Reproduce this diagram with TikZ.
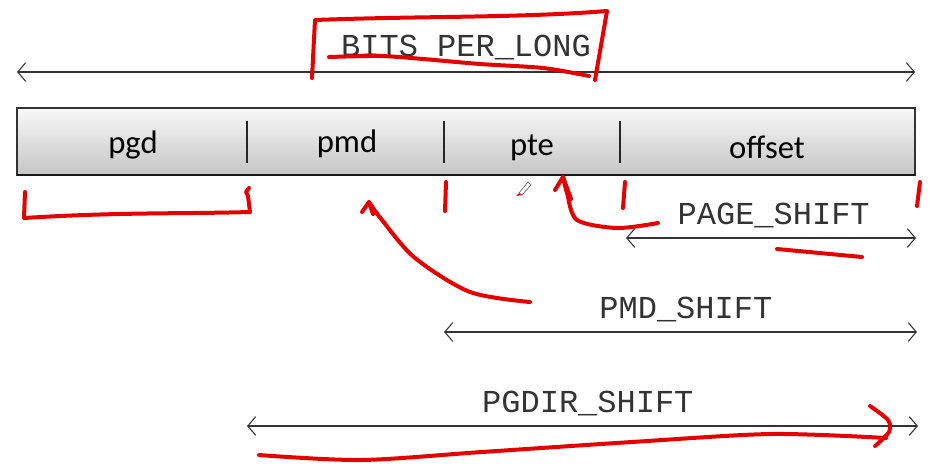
\documentclass[tikz,border=0pt]{standalone}
\usepackage{fontspec}
\newfontfamily\codefont{Liberation Mono}
\newfontfamily\fieldfont{Carlito}
\usetikzlibrary{positioning,arrows.meta,calc,shadows}

\tikzset{
  dim/.style={{Straight Barb[length=6pt,width=14pt]}-{Straight Barb[length=6pt,width=14pt]}, black!80, line width=0.8pt},
  dimlabel/.style={font=\codefont\fontsize{24}{24}\selectfont, text=black!80, anchor=base, yshift=10.5pt, inner sep=0pt},
  fieldlabel/.style={font=\fieldfont\fontsize{24.5}{24.5}\selectfont, inner sep=0pt},
  divider/.style={black!85, line width=0.9pt},
  ink/.style={red!90!black, line width=3pt, line cap=round, line join=round}
}

\begin{document}
\begin{tikzpicture}[x=0.75pt,y=-0.75pt]
\useasboundingbox (0,0) rectangle (944,475);

% Address bar
\shade[top color=gray!6, bottom color=gray!45, draw=black!80, line width=1.2pt,
       drop shadow={opacity=0.25, shadow xshift=1pt, shadow yshift=-1pt}]
  (17,108) rectangle (915,175);
\draw[black!90, line width=2pt] (17,175) -- (915,175);
\foreach \x in {247,444,620}
    \draw[divider] (\x,121) -- (\x,163);

\node[fieldlabel] (pgd) at (133,145) {pgd};
\node[fieldlabel] (pmd) at (347,144) {pmd};
\node[fieldlabel] (pte) at (532,148) {pte};
\node[fieldlabel] (offset) at (767,147) {offset};

% Dimension arrows
\coordinate (bpl-l) at (17,72);
\coordinate (bpl-r) at (915,72);
\coordinate (page-l) at (626,238);
\coordinate (page-r) at (916,238);
\coordinate (pmds-l) at (444,332);
\coordinate (pmds-r) at (917,332);
\coordinate (pgdir-l) at (247,426);
\coordinate (pgdir-r) at (918,426);

\draw[dim] (bpl-l) -- node[dimlabel, yshift=1.5pt] (bpl) {BITS\_PER\_LONG} (bpl-r);
\draw[dim] (page-l) -- node[dimlabel, xshift=2pt] (page) {PAGE\_SHIFT} (page-r);
\draw[dim] (pmds-l) -- node[dimlabel, xshift=4pt] (pmds) {PMD\_SHIFT} (pmds-r);
\draw[dim] (pgdir-l) -- node[dimlabel, xshift=4pt] (pgdir) {PGDIR\_SHIFT} (pgdir-r);

% Red pen annotations
\draw[ink] (312,78) -- (315,20) .. controls (420,16) and (520,18) .. (607,11) -- (595,80);
\draw[ink] plot[smooth] coordinates {(329,57) (380,56) (423,59) (480,64) (543,68) (589,76)};
\draw[ink] (25,192) -- (24,218) .. controls (120,212) and (180,214) .. (250,212) -- (248,196) -- (246,192) -- (249,188);
\draw[ink] (446,182) -- (445,211);
\draw[ink] (625,182) -- (623,208);
\draw[ink] (920,182) -- (917,206);
\draw[ink] plot[smooth] coordinates {(658,223) (617,228) (577,220) (567,193) (563,177)};
\draw[ink] (555,190) -- (563,177) -- (571,199);
\draw[ink] plot[smooth] coordinates {(530,302) (470,292) (415,258) (382,220) (369,202)};
\draw[ink] (362,212) -- (369,202) -- (373,214);
\draw[ink] (777,249) -- (862,257);
\draw[ink] plot[smooth] coordinates {(259,455) (361,460) (482,452) (632,442) (771,434) (886,438)};
\draw[ink] plot[smooth] coordinates {(870,406) (888,420) (889,432) (875,446)};

% Pen cursor
\draw[black!60, line width=0.5pt] (519,193) -- (528,182) -- (531,185) -- (522,195) -- cycle;
\fill[red] (516,196) -- (519,193) -- (522,195) -- cycle;
\end{tikzpicture}
\end{document}
